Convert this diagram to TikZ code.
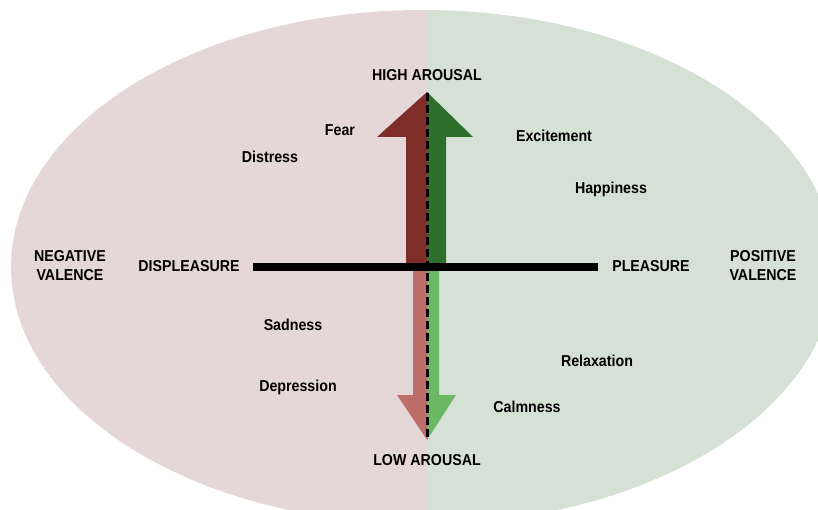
\documentclass[tikz,border=0pt]{standalone}
\usepackage{fontspec}
\setmainfont{Liberation Sans}[FakeStretch=0.9]
\definecolor{bgred}{HTML}{E5D7D7}
\definecolor{bggreen}{HTML}{D6E1D6}
\definecolor{darkred}{HTML}{7E2D29}
\definecolor{darkgreen}{HTML}{2F6F2C}
\definecolor{lightred}{HTML}{BD6E6A}
\definecolor{lightgreen}{HTML}{6AB764}
\begin{document}
\begin{tikzpicture}[x=1pt,y=-1pt,
  lbl/.style={font=\bfseries\fontsize{15.8}{19}\selectfont, text=black, inner sep=0pt, align=center}]
\useasboundingbox (0,0) rectangle (818,510);
\begin{scope}
  \clip (0,0) rectangle (818,510);
  \begin{scope}
    \clip (0,0) rectangle (427,510);
    \fill[bgred] (423,267) ellipse [x radius=412, y radius=257];
  \end{scope}
  \begin{scope}
    \clip (427,0) rectangle (818,510);
    \fill[bggreen] (423,267) ellipse [x radius=412, y radius=257];
  \end{scope}
\end{scope}
% up arrow
\fill[darkred] (427,92) -- (377,137) -- (406,137) -- (406,267) -- (427,267) -- cycle;
\fill[darkgreen] (427,92) -- (473,137) -- (446,137) -- (446,267) -- (427,267) -- cycle;
% down arrow
\fill[lightred] (427,440) -- (397,395) -- (413,395) -- (413,267) -- (427,267) -- cycle;
\fill[lightgreen] (427,440) -- (456,395) -- (439,395) -- (439,267) -- (427,267) -- cycle;
% horizontal bar
\coordinate (hl) at (253,267);
\coordinate (hr) at (598,267);
\draw[line width=7.5pt] (hl) -- (hr);
% dashed axis
\coordinate (vt) at (427,93);
\coordinate (vb) at (427,440);
\draw[line width=3pt, dash pattern=on 8pt off 4pt] (vt) -- (vb);
% labels
\node[lbl] (high) at (427,75) {HIGH AROUSAL};
\node[lbl] (low) at (427,460) {LOW AROUSAL};
\node[lbl] (fear) at (340,130) {Fear};
\node[lbl] (distress) at (270,157) {Distress};
\node[lbl] (excite) at (554,136) {Excitement};
\node[lbl] (happy) at (611,189) {Happiness};
\node[lbl] (sad) at (293,325) {Sadness};
\node[lbl] (dep) at (298,387) {Depression};
\node[lbl] (relax) at (597,361) {Relaxation};
\node[lbl] (calm) at (527,407) {Calmness};
\node[lbl] (neg) at (70,266) {NEGATIVE\\VALENCE};
\node[lbl] (displ) at (189,266) {DISPLEASURE};
\node[lbl] (pleas) at (651,266) {PLEASURE};
\node[lbl] (pos) at (763,266) {POSITIVE\\VALENCE};
\end{tikzpicture}
\end{document}
